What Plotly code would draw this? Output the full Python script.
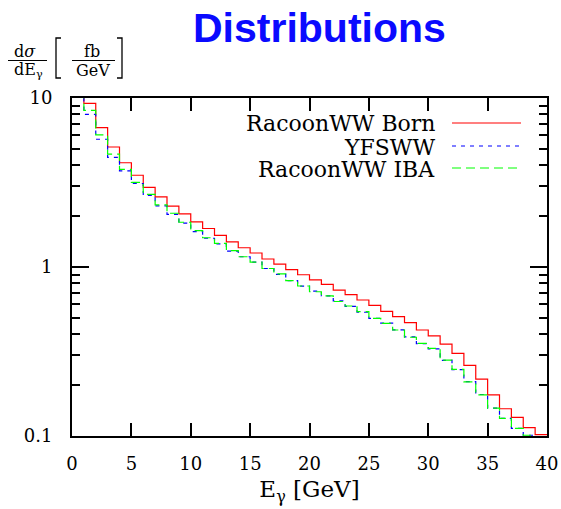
import plotly.graph_objects as go

# ---------------- data ----------------
bin_edges = list(range(0, 41))  # 1 GeV bins, 0..40 GeV
series_names = ["RacoonWW Born", "YFSWW", "RacoonWW IBA"]
born = [14, 9.3, 6.67, 5.13, 4.14, 3.49, 2.96, 2.60, 2.29, 2.06,
        1.85, 1.69, 1.54, 1.41, 1.30, 1.21, 1.115, 1.04, 0.964, 0.90,
        0.84, 0.79, 0.73, 0.686, 0.638, 0.593, 0.547, 0.508, 0.469, 0.424,
        0.391, 0.35, 0.308, 0.262, 0.217, 0.175, 0.145, 0.129, 0.112, 0.102]
yfsww = [14, 8.0, 5.7, 4.45, 3.70, 3.12, 2.65, 2.30, 2.05, 1.82,
         1.62, 1.48, 1.37, 1.24, 1.15, 1.07, 0.98, 0.905, 0.83, 0.77,
         0.72, 0.675, 0.63, 0.585, 0.54, 0.497, 0.465, 0.425, 0.386, 0.352,
         0.328, 0.28, 0.247, 0.21, 0.176, 0.146, 0.127, 0.111, 0.101, 0.09]
iba = [14, 8.45, 6.05, 4.65, 3.78, 3.17, 2.69, 2.33, 2.08, 1.84,
       1.64, 1.49, 1.38, 1.25, 1.15, 1.07, 0.98, 0.91, 0.83, 0.772,
       0.714, 0.675, 0.625, 0.588, 0.544, 0.497, 0.464, 0.424, 0.384, 0.353,
       0.33, 0.281, 0.248, 0.209, 0.175, 0.146, 0.127, 0.111, 0.101, 0.09]
x_ticks = [0, 5, 10, 15, 20, 25, 30, 35, 40]
y_ticks = [0.1, 1, 10]
y_tick_labels = ["0.1", "1", "10"]

colors = ["#ff0000", "#0000ff", "#00ff00"]
dashes = ["solid", "4px,5px", "9px,5px"]

W, H = 561, 509
L, R, T, B = 72, 14, 98, 73
PW, PH = W - L - R, H - T - B


def px(x):
    return (x - L) / PW


def py(y):
    return (H - B - y) / PH


fig = go.Figure()
for name, vals, c, d in zip(series_names, [born, yfsww, iba], colors, dashes):
    fig.add_trace(go.Scatter(
        x=bin_edges, y=vals + [vals[-1]], mode="lines", name=name,
        line=dict(color=c, width=1.2, dash=d, shape="hv"),
        showlegend=False, hoverinfo="skip"))

serif = "DejaVu Serif"
annotations = []
shapes = []

# manual legend (text right, sample line right of it)
leg_rows = [123, 146, 168]
for name, c, d, yy in zip(series_names, colors, dashes, leg_rows):
    annotations.append(dict(text=name, x=px(437), y=py(yy + 1), xref="paper", yref="paper",
                            xanchor="right", yanchor="middle", showarrow=False,
                            font=dict(family=serif, size=22, color="black")))
    shapes.append(dict(type="line", xref="paper", yref="paper",
                       x0=px(452), x1=px(521), y0=py(yy), y1=py(yy),
                       line=dict(color=c, width=1.2, dash=d)))

# title
annotations.append(dict(text="<b>Distributions</b>", x=px(319), y=py(28), xref="paper", yref="paper",
                        xanchor="center", yanchor="middle", showarrow=False,
                        font=dict(family="Liberation Sans", size=41, color="#0a0aff")))

# y-axis label as a built fraction
lab_font = dict(family=serif, size=16, color="black")
annotations += [
    dict(text="d<i>σ</i>", x=px(25), y=py(51), xref="paper", yref="paper", xanchor="center",
         yanchor="middle", showarrow=False, font=lab_font),
    dict(text="dE<sub>γ</sub>", x=px(28), y=py(71), xref="paper", yref="paper", xanchor="center",
         yanchor="middle", showarrow=False, font=lab_font),
    dict(text="fb", x=px(92), y=py(51), xref="paper", yref="paper", xanchor="center",
         yanchor="middle", showarrow=False, font=lab_font),
    dict(text="GeV", x=px(93), y=py(70), xref="paper", yref="paper", xanchor="center",
         yanchor="middle", showarrow=False, font=lab_font),
]
for x0, x1 in [(8, 47), (72, 115)]:
    shapes.append(dict(type="line", xref="paper", yref="paper", x0=px(x0), x1=px(x1),
                       y0=py(60.5), y1=py(60.5), line=dict(color="black", width=1)))
for xv, xs in [(56, 61), (122, 117)]:
    shapes.append(dict(type="path", xref="paper", yref="paper",
                       path=f"M {px(xs)},{py(38)} L {px(xv)},{py(38)} L {px(xv)},{py(78)} L {px(xs)},{py(78)}",
                       line=dict(color="black", width=1.3)))

fig.update_layout(
    width=W, height=H, autosize=False, margin=dict(l=L, r=R, t=T, b=B, autoexpand=False),
    paper_bgcolor="white", plot_bgcolor="white",
    annotations=annotations, shapes=shapes,
    xaxis=dict(range=[0, 40], tickvals=x_ticks, ticks="inside", ticklen=13, tickwidth=2,
               tickcolor="black", showline=True, linecolor="black", linewidth=2, mirror="ticks",
               showgrid=False, zeroline=False, ticklabelstandoff=10, automargin=False,
               tickfont=dict(family=serif, size=18, color="black"),
               title=dict(text="E<sub>γ</sub> [GeV]", font=dict(family=serif, size=23, color="black"),
                          standoff=8)),
    yaxis=dict(type="log", range=[-1, 1], tickvals=y_ticks, ticktext=y_tick_labels,
               ticks="inside", ticklen=17, tickwidth=2, tickcolor="black",
               showline=True, linecolor="black", linewidth=2, mirror="ticks",
               showgrid=False, zeroline=False, ticklabelstandoff=14, automargin=False,
               tickfont=dict(family=serif, size=18, color="black"),
               minor=dict(tickmode="array",
                          tickvals=[m * 10.0 ** e for e in (-1, 0) for m in range(2, 10)],
                          ticks="inside", ticklen=8, tickwidth=2, tickcolor="black",
                          showgrid=False)),
)

fig.write_html("out.html", config={"responsive": False, "displayModeBar": False},
               default_width="561px", default_height="509px")
